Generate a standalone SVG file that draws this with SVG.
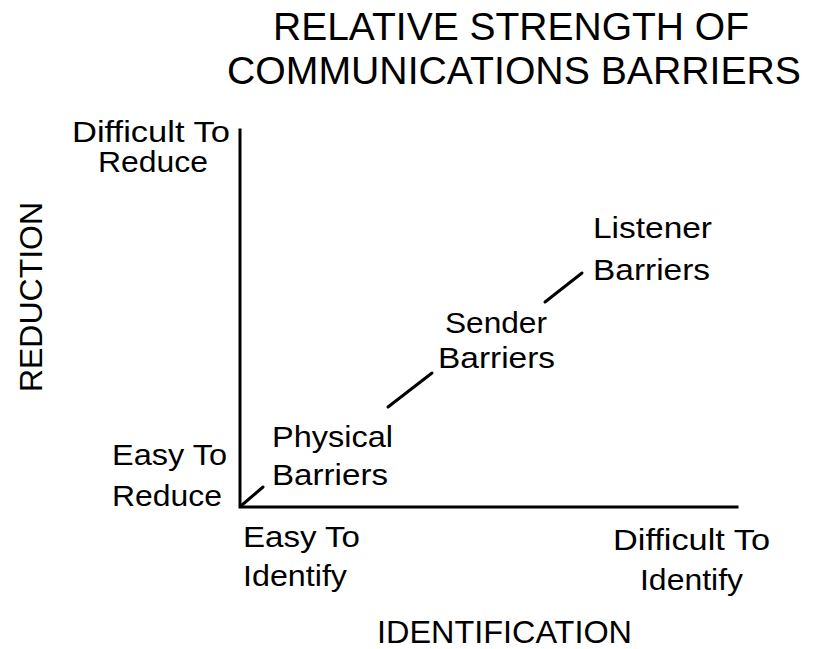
<svg xmlns="http://www.w3.org/2000/svg" width="814" height="649" viewBox="0 0 814 649">
<style>
text{font-family:"Liberation Sans",Arial,sans-serif;fill:#000;}
.t{font-size:38px;}
.l{font-size:30px;}
.ax{font-size:32px;}
.axis{stroke:#000;stroke-width:3;fill:none;stroke-linecap:square;}
.lead{stroke:#000;stroke-width:3;fill:none;stroke-linecap:round;}
</style>
<rect width="814" height="649" fill="#fff"/>
<g id="title">
<text class="t" x="273" y="40" textLength="476" lengthAdjust="spacingAndGlyphs">RELATIVE STRENGTH OF</text>
<text class="t" x="227" y="84" textLength="574" lengthAdjust="spacingAndGlyphs">COMMUNICATIONS BARRIERS</text>
</g>
<g id="axes">
<path class="axis" d="M240,130 V507 H737"/>
</g>
<g id="y-axis-label">
<text class="ax" transform="translate(42,297) rotate(-90)" text-anchor="middle">REDUCTION</text>
</g>
<g id="y-high">
<text class="l" x="72" y="142" textLength="158" lengthAdjust="spacingAndGlyphs">Difficult To</text>
<text class="l" x="98" y="172" textLength="110" lengthAdjust="spacingAndGlyphs">Reduce</text>
</g>
<g id="y-low">
<text class="l" x="112" y="465" textLength="115" lengthAdjust="spacingAndGlyphs">Easy To</text>
<text class="l" x="112" y="506" textLength="110" lengthAdjust="spacingAndGlyphs">Reduce</text>
</g>
<g id="x-low">
<text class="l" x="243" y="547" textLength="117" lengthAdjust="spacingAndGlyphs">Easy To</text>
<text class="l" x="243" y="586" textLength="104" lengthAdjust="spacingAndGlyphs">Identify</text>
</g>
<g id="x-high">
<text class="l" x="613" y="550" textLength="157" lengthAdjust="spacingAndGlyphs">Difficult To</text>
<text class="l" x="640" y="590" textLength="103" lengthAdjust="spacingAndGlyphs">Identify</text>
</g>
<g id="x-axis-label">
<text class="ax" x="377" y="643" font-size="31" textLength="255" lengthAdjust="spacingAndGlyphs" style="font-size:31px">IDENTIFICATION</text>
</g>
<g id="physical">
<text class="l" x="272" y="447" textLength="121" lengthAdjust="spacingAndGlyphs">Physical</text>
<text class="l" x="272" y="485" textLength="116" lengthAdjust="spacingAndGlyphs">Barriers</text>
</g>
<g id="sender">
<text class="l" x="445" y="333" textLength="102" lengthAdjust="spacingAndGlyphs">Sender</text>
<text class="l" x="438" y="368" textLength="117" lengthAdjust="spacingAndGlyphs">Barriers</text>
</g>
<g id="listener">
<text class="l" x="593" y="238" textLength="119" lengthAdjust="spacingAndGlyphs">Listener</text>
<text class="l" x="593" y="280" textLength="117" lengthAdjust="spacingAndGlyphs">Barriers</text>
</g>
<g id="connectors">
<path class="lead" d="M242,505 L263,487"/>
<path class="lead" d="M388,407 L432,373"/>
<path class="lead" d="M545,302 L582,273"/>
</g>
</svg>
